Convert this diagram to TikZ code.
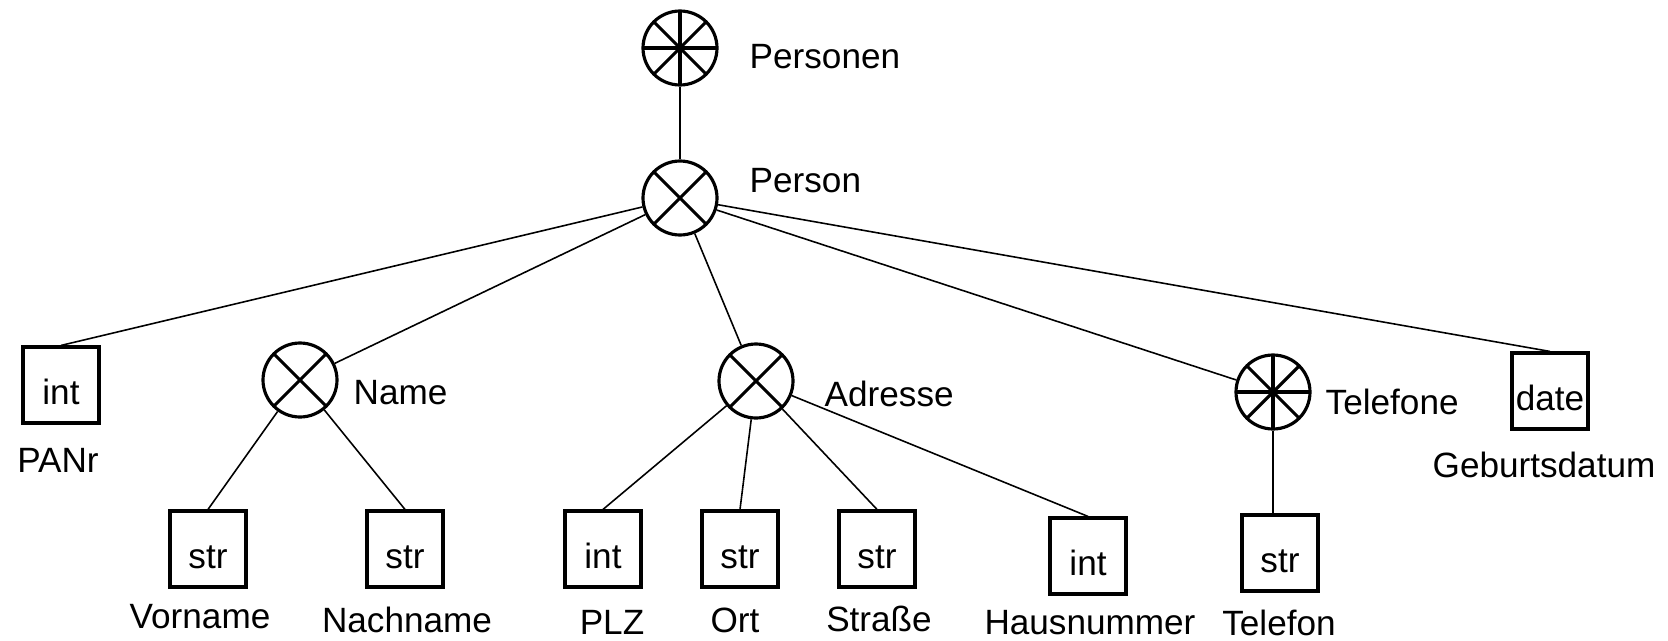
\documentclass[tikz,border=0pt]{standalone}
\usepackage{fontspec}
\setmainfont{Liberation Sans}
\usepackage{tikz}

\begin{document}
\begin{tikzpicture}[
        % tuple constructor: circle with a cross
        tupel/.style={draw, circle, line width=0.9pt, minimum size=0.74cm, inner sep=0pt,
            path picture={
                \draw[line width=0.9pt] (path picture bounding box.north west) -- (path picture bounding box.south east);
                \draw[line width=0.9pt] (path picture bounding box.north east) -- (path picture bounding box.south west);
            }},
        % set constructor: cross plus horizontal and vertical bar
        menge/.style={draw, circle, line width=0.9pt, minimum size=0.74cm, inner sep=0pt,
            path picture={
                \draw[line width=0.9pt] (path picture bounding box.north west) -- (path picture bounding box.south east);
                \draw[line width=0.9pt] (path picture bounding box.north east) -- (path picture bounding box.south west);
                \draw[line width=0.9pt] (path picture bounding box.north) -- (path picture bounding box.south);
                \draw[line width=0.9pt] (path picture bounding box.west) -- (path picture bounding box.east);
            }},
        % basic type box
        basis/.style={draw, rectangle, line width=0.9pt, minimum size=0.76cm, inner sep=0pt,
            text height=11pt, text depth=0pt},
        bezeichner/.style={inner sep=0pt, anchor=west},
        typname/.style={inner sep=0pt},
        every node/.style={font=\fontsize{10}{12}\selectfont},
        kante/.style={line width=0.45pt},
    ]
    \useasboundingbox (0,0) rectangle (16.68,6.40);

    % constructors
    \node [menge] (personen) at (6.80,5.92) {};
    \node [tupel] (person) at (6.80,4.42) {};
    \node [tupel] (name) at (3.00,2.60) {};
    \node [tupel] (adresse) at (7.56,2.59) {};
    \node [menge] (telefone) at (12.73,2.48) {};

    % basic types
    \node [basis] (panr) at (0.61,2.55) {int};
    \node [basis] (vorname) at (2.08,0.91) {str};
    \node [basis] (nachname) at (4.05,0.91) {str};
    \node [basis] (plz) at (6.03,0.91) {int};
    \node [basis] (ort) at (7.40,0.91) {str};
    \node [basis] (strasse) at (8.77,0.91) {str};
    \node [basis] (hausnr) at (10.88,0.84) {int};
    \node [basis] (telefon) at (12.80,0.87) {str};
    \node [basis] (gebdat) at (15.50,2.49) {date};

    % labels
    \node [bezeichner] (l-personen) at (7.49,5.83) {Personen};
    \node [bezeichner] (l-person) at (7.49,4.59) {Person};
    \node [bezeichner] (l-name) at (3.53,2.47) {Name};
    \node [bezeichner] (l-adresse) at (8.24,2.46) {Adresse};
    \node [bezeichner] (l-telefone) at (13.25,2.38) {Telefone};
    \node [typname] (l-panr) at (0.58,1.80) {PANr};
    \node [typname] (l-vorname) at (2.00,0.23) {Vorname};
    \node [typname] (l-nachname) at (4.07,0.20) {Nachname};
    \node [typname] (l-plz) at (6.12,0.18) {PLZ};
    \node [typname] (l-ort) at (7.35,0.20) {Ort};
    \node [typname] (l-strasse) at (8.79,0.21) {Straße};
    \node [typname] (l-hausnr) at (10.90,0.17) {Hausnummer};
    \node [typname] (l-telefon) at (12.79,0.17) {Telefon};
    \node [typname] (l-gebdat) at (15.44,1.75) {Geburtsdatum};

    % edges
    \draw [kante] (personen) -- (person);
    \draw [kante] (person) -- (panr.north);
    \draw [kante] (person) -- (name);
    \draw [kante] (person) -- (adresse);
    \draw [kante] (person) -- (telefone);
    \draw [kante] (person) -- (gebdat.north);
    \draw [kante] (name) -- (vorname.north);
    \draw [kante] (name) -- (nachname.north);
    \draw [kante] (adresse) -- (plz.north);
    \draw [kante] (adresse) -- (ort.north);
    \draw [kante] (adresse) -- (strasse.north);
    \draw [kante] (adresse) -- (hausnr.north);
    \draw [kante] (telefone) -- (telefone |- telefon.north);
\end{tikzpicture}
\end{document}
